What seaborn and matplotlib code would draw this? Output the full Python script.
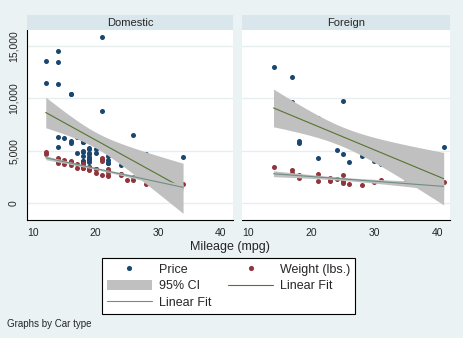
import numpy as np
import pandas as pd
import matplotlib
matplotlib.use("Agg")
import matplotlib.pyplot as plt
import seaborn as sns
from matplotlib.lines import Line2D
from matplotlib.patches import Patch

# ---- data (Stata auto dataset) ----
dom_mpg = [22, 17, 22, 20, 15, 18, 26, 20, 16, 19, 14, 14, 21, 29, 16, 22, 22, 24, 19, 30,
           18, 16, 17, 28, 21, 12, 12, 14, 22, 14, 15, 18, 14, 20, 21, 19, 19, 18, 19, 24,
           16, 28, 34, 25, 26, 18, 18, 18, 19, 19, 19, 24]
dom_price = [4099, 4749, 3799, 4816, 7827, 5788, 4453, 5189, 10372, 4082, 11385, 14500, 15906,
             3299, 5705, 4504, 5104, 3667, 3955, 3984, 4010, 5886, 6342, 4389, 4187, 11497,
             13594, 13466, 3829, 5379, 6165, 4516, 6303, 3291, 8814, 5172, 4733, 4890, 4181,
             4195, 10371, 4647, 4425, 4482, 6486, 4060, 5798, 4934, 5222, 4723, 4424, 4172]
dom_weight = [2930, 3350, 2640, 3250, 4080, 3670, 2230, 3280, 3880, 3400, 4330, 3900, 4290,
              2110, 3690, 3180, 3220, 2750, 3430, 2120, 3600, 3600, 3740, 1800, 2650, 4840,
              4720, 3830, 2580, 4060, 3720, 3370, 4130, 2830, 4060, 3310, 3300, 3690, 3370,
              2730, 4030, 3260, 1800, 2200, 2520, 3330, 3700, 3470, 3210, 3200, 3420, 2690]
for_mpg = [17, 23, 25, 23, 35, 24, 21, 21, 25, 28, 30, 14, 26, 35, 18, 31, 18, 23, 41, 25, 25, 17]
for_price = [9690, 6295, 9735, 6229, 4589, 5079, 8129, 4296, 5799, 4499, 3995, 12990, 3895,
             3798, 5899, 3748, 5719, 7140, 5397, 4697, 6850, 11995]
for_weight = [2830, 2070, 2650, 2370, 2020, 2280, 2750, 2130, 2240, 1760, 1980, 3420, 1830,
              2050, 2410, 2200, 2670, 2160, 2040, 1930, 1990, 3170]

panel_titles = ["Domestic", "Foreign"]
x_ticks = [10, 20, 30, 40]
y_ticks = [0, 5000, 10000, 15000]
y_tick_labels = ["0", "5,000", "10,000", "15,000"]
legend_labels = ["Price", "Weight (lbs.)", "95% CI", "Linear Fit", "Linear Fit"]
x_label = "Mileage (mpg)"
note = "Graphs by Car type"

# ---- style ----
sns.set_style("white")
plt.rcParams["font.family"] = ["Liberation Sans", "DejaVu Sans"]

BG = "#eaf2f3"
STRIP = "#d9e6eb"
GRID = "#e6eef0"
NAVY = "#1a476f"
MAROON = "#90353b"
GREEN = "#55752f"
TEAL = "#6e8e84"
CIGRAY = "#c0c0c0"

W, H = 464, 338
fig = plt.figure(figsize=(W / 100, H / 100), dpi=100, facecolor=BG)


def fx(px):
    return px / W


def fy(py):
    return 1 - py / H


def tcrit(df):
    z = 1.959964
    return (z + (z**3 + z) / (4 * df) + (5 * z**5 + 16 * z**3 + 3 * z) / (96 * df**2)
            + (3 * z**7 + 19 * z**5 + 17 * z**3 - 15 * z) / (384 * df**3))


def fit_ci(x, y, n=100):
    x = np.asarray(x, float)
    y = np.asarray(y, float)
    nobs = len(x)
    b1, b0 = np.polyfit(x, y, 1)
    xs = np.linspace(x.min(), x.max(), n)
    yhat = b0 + b1 * xs
    resid = y - (b0 + b1 * x)
    s = np.sqrt((resid ** 2).sum() / (nobs - 2))
    sxx = ((x - x.mean()) ** 2).sum()
    se = s * np.sqrt(1 / nobs + (xs - x.mean()) ** 2 / sxx)
    t = tcrit(nobs - 2)
    return xs, yhat, yhat - t * se, yhat + t * se


groups = [
    (dom_mpg, dom_price, dom_weight),
    (for_mpg, for_price, for_weight),
]
panel_x = [(27, 233), (242, 450)]
top, bottom = 30, 220
strip_top = 15

for i, ((mpg, price, weight), (x0, x1)) in enumerate(zip(groups, panel_x)):
    ax = fig.add_axes([fx(x0), fy(bottom), fx(x1 - x0), (bottom - top) / H])
    ax.set_facecolor("white")
    df = pd.DataFrame({"mpg": mpg, "price": price, "weight": weight})
    sns.scatterplot(data=df, x="mpg", y="price", ax=ax, color=NAVY, s=13,
                    linewidth=0, marker="o", zorder=3)
    sns.scatterplot(data=df, x="mpg", y="weight", ax=ax, color=MAROON, s=13,
                    linewidth=0, marker="o", zorder=3)
    xs, yh, lo, hi = fit_ci(mpg, price)
    ax.fill_between(xs, lo, hi, color=CIGRAY, linewidth=0, zorder=4)
    sns.lineplot(x=xs, y=yh, ax=ax, color=GREEN, linewidth=0.8, zorder=5)
    xs, yh, lo, hi = fit_ci(mpg, weight)
    ax.fill_between(xs, lo, hi, color=CIGRAY, linewidth=0, zorder=6)
    sns.lineplot(x=xs, y=yh, ax=ax, color=TEAL, linewidth=0.8, zorder=7)

    ax.set_xlim(9.0, 42.0)
    ax.set_ylim(-1622, 16527)
    ax.set_xticks(x_ticks)
    ax.set_xticklabels([str(v) for v in x_ticks], fontsize=7.5)
    ax.set_yticks(y_ticks)
    ax.set_xlabel("")
    ax.set_ylabel("")
    ax.yaxis.grid(True, color=GRID, linewidth=1.0)
    ax.xaxis.grid(False)
    ax.set_axisbelow(True)
    for sp in ["top", "right"]:
        ax.spines[sp].set_visible(False)
    ax.spines["bottom"].set_color("black")
    ax.spines["bottom"].set_linewidth(0.8)
    ax.tick_params(axis="x", direction="out", length=3, width=0.7, color="black", pad=2.5)
    if i == 0:
        ax.spines["left"].set_color("black")
        ax.spines["left"].set_linewidth(0.8)
        ax.set_yticklabels(y_tick_labels, fontsize=7.5, rotation=90, va="center")
        ax.tick_params(axis="y", direction="out", length=3.5, width=0.7, color="black", pad=2.5)
    else:
        ax.spines["left"].set_visible(False)
        ax.tick_params(axis="y", left=False, labelleft=False)

    sax = fig.add_axes([fx(x0), fy(top), fx(x1 - x0), (top - strip_top) / H])
    sax.set_facecolor(STRIP)
    sax.set_xticks([])
    sax.set_yticks([])
    for sp in sax.spines.values():
        sp.set_visible(False)
    sax.text(0.5, 0.45, panel_titles[i], ha="center", va="center", fontsize=8,
             transform=sax.transAxes)

fig.text(fx(230), fy(247), x_label, ha="center", va="center", fontsize=9)
fig.text(fx(7), fy(324), note, ha="left", va="center", fontsize=7)

handles = [
    Line2D([], [], marker="o", linestyle="none", color=NAVY, markersize=3.7, markeredgewidth=0),
    Patch(facecolor=CIGRAY, edgecolor="none"),
    Line2D([], [], color=TEAL, linewidth=0.8),
    Line2D([], [], marker="o", linestyle="none", color=MAROON, markersize=3.7, markeredgewidth=0),
    Line2D([], [], color=GREEN, linewidth=0.8),
]
labels = [legend_labels[0], legend_labels[2], legend_labels[4], legend_labels[1], legend_labels[3]]
leg = fig.legend(handles, labels, ncol=2, loc="center",
                 bbox_to_anchor=(fx(228.5), fy(286)), frameon=True, fancybox=False,
                 edgecolor="black", facecolor="white", framealpha=1, fontsize=9,
                 handlelength=3.6, handleheight=0.95, handletextpad=0.56,
                 columnspacing=1.36, labelspacing=0.3, borderpad=0.4, numpoints=1)
leg.get_frame().set_linewidth(0.8)

fig.savefig("out.png", dpi=100, facecolor=BG)
